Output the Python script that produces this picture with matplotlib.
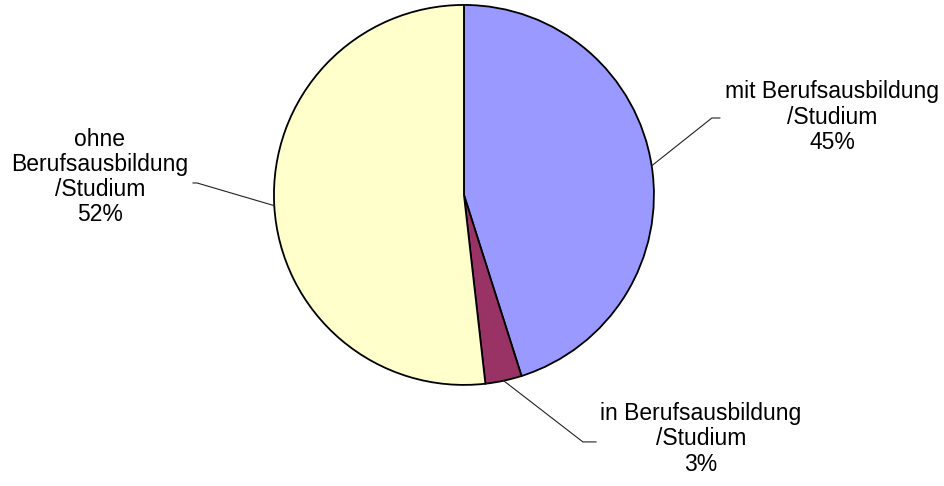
import numpy as np
import matplotlib
matplotlib.use('Agg')
from matplotlib import pyplot as plt

labels = ['mit Berufsausbildung\n/Studium', 'in Berufsausbildung\n/Studium',
          'ohne\nBerufsausbildung\n/Studium']
values = [45.1, 3.1, 51.8]
pct_labels = ['45%', '3%', '52%']
colors = ['#9999FF', '#993366', '#FFFFCC']

# label centres and leader elbows (data units, pie radius = 1)
text_pos = [(1.937, 0.41), (1.247, -1.284), (-1.916, 0.095)]
elbow = [((1.305, 0.405), (1.347, 0.405)),
         ((0.626, -1.30), (0.695, -1.30)),
         ((-1.405, 0.063), (-1.426, 0.063))]

plt.rcParams['font.family'] = ['Liberation Sans', 'DejaVu Sans']

fig = plt.figure(figsize=(9.45, 4.86), dpi=100)
ax = fig.add_axes([0, 0, 1, 1])

wedges, _ = ax.pie(values, colors=colors, startangle=90, counterclock=False,
                   wedgeprops=dict(edgecolor='black', linewidth=1.3))

for w, lab, pct, tp, (e1, e2) in zip(wedges, labels, pct_labels, text_pos, elbow):
    mid = np.deg2rad((w.theta1 + w.theta2) / 2.)
    x0, y0 = np.cos(mid), np.sin(mid)
    ax.plot([x0, e1[0], e2[0]], [y0, e1[1], e2[1]], color='#222222', lw=0.8)
    ax.text(tp[0], tp[1], lab + '\n' + pct, ha='center', va='center',
            fontsize=16.5, linespacing=1.12)

ax.set_xlim(-2.442, 2.532)
ax.set_ylim(-1.532, 1.026)
ax.set_aspect('equal')
ax.axis('off')

fig.savefig('out.png', dpi=100)
